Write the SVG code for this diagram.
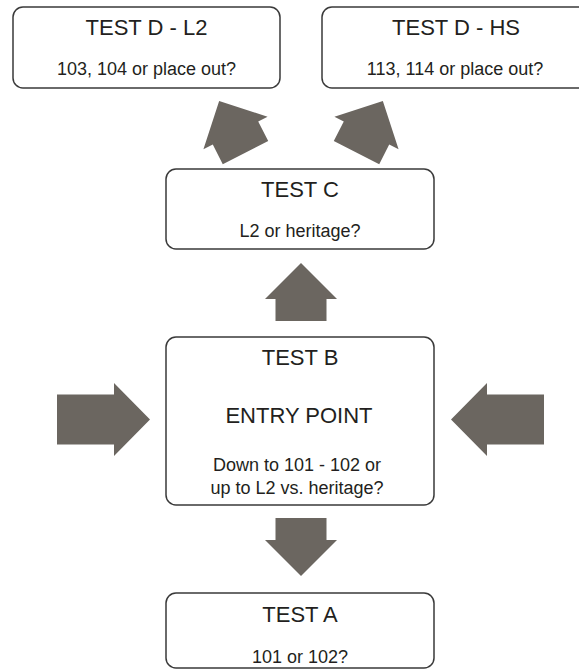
<svg xmlns="http://www.w3.org/2000/svg" xmlns:xlink="http://www.w3.org/1999/xlink" width="579" height="669" viewBox="0 0 579 669">
  <style>
    .box { fill: #ffffff; stroke: #3a3a3a; stroke-width: 1.5; }
    .title { font-family: "Liberation Sans", Arial, sans-serif; font-size: 22px; fill: #231f20; text-anchor: middle; }
    .sub { font-family: "Liberation Sans", Arial, sans-serif; font-size: 18px; fill: #231f20; text-anchor: middle; }
    .arrow { fill: #6b6660; stroke: none; }
  </style>
  <defs>
    <path id="arrowShort" d="M0,-36 L36,0 L25.5,0 L25.5,22 L-25.5,22 L-25.5,0 L-36,0 Z"/>
    <path id="arrowLong" d="M0,-36 L36.5,0 L25,0 L25,57 L-25,57 L-25,0 L-36.5,0 Z"/>
  </defs>
  <rect width="579" height="669" fill="#ffffff"/>

  <g id="connectors">
    <use xlink:href="#arrowShort" class="arrow" transform="translate(235.5,133) rotate(-27)"/>
    <use xlink:href="#arrowShort" class="arrow" transform="translate(366.5,133) rotate(27)"/>
    <use xlink:href="#arrowShort" class="arrow" transform="translate(301,299)"/>
    <use xlink:href="#arrowShort" class="arrow" transform="translate(301,540) rotate(180)"/>
    <use xlink:href="#arrowLong" class="arrow" transform="translate(114,419.5) rotate(90)"/>
    <use xlink:href="#arrowLong" class="arrow" transform="translate(487,419.5) rotate(-90)"/>
  </g>

  <g id="testDL2">
    <rect class="box" x="13" y="7" width="267" height="81" rx="10"/>
    <text class="title" x="146.5" y="35">TEST D - L2</text>
    <text class="sub" x="146.5" y="75">103, 104 or place out?</text>
  </g>

  <g id="testDHS">
    <rect class="box" x="322" y="7" width="267" height="81" rx="10"/>
    <text class="title" x="456" y="35">TEST D - HS</text>
    <text class="sub" x="455" y="75">113, 114 or place out?</text>
  </g>

  <g id="testC">
    <rect class="box" x="166" y="169" width="268" height="80" rx="10"/>
    <text class="title" x="300" y="197">TEST C</text>
    <text class="sub" x="300" y="237">L2 or heritage?</text>
  </g>

  <g id="testB">
    <rect class="box" x="166" y="337" width="268" height="168" rx="10"/>
    <text class="title" x="300" y="365">TEST B</text>
    <text class="title" x="299" y="423">ENTRY POINT</text>
    <text class="sub" x="297" y="471">Down to 101 - 102 or</text>
    <text class="sub" x="297" y="494">up to L2 vs. heritage?</text>
  </g>

  <g id="testA">
    <rect class="box" x="166" y="593" width="268" height="75" rx="10"/>
    <text class="title" x="300" y="622">TEST A</text>
    <text class="sub" x="300" y="663">101 or 102?</text>
  </g>
</svg>
